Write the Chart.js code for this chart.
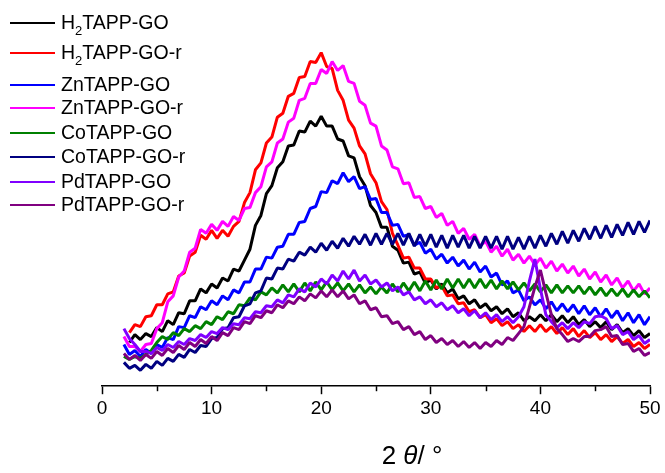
<!DOCTYPE html>
<html>
<head>
<meta charset="utf-8">
<script src="https://cdn.jsdelivr.net/npm/chart.js@4.4.1/dist/chart.umd.min.js"></script>
<style>
  body { margin: 0; background: #fff; }
  #wrap { position: relative; width: 665px; height: 473px; }
  #legend { position: absolute; left: 0; top: 0; font-family: "Liberation Sans", Arial, sans-serif; font-size: 19.5px; color: #000; }
  .row { position: absolute; left: 10px; white-space: nowrap; height: 0; }
  .row span.ln { position: absolute; left: 0; top: -1px; width: 45px; height: 2px; }
  .row span.tx { position: absolute; left: 51px; top: -12px; line-height: 22px; }
  .row sub { font-size: 13px; vertical-align: -6px; line-height: 0; }
  #xtitle { position: absolute; top: 441px; left: 412px; transform: translateX(-50%); font-family: "Liberation Sans", Arial, sans-serif; font-size: 26px; line-height: 29px; white-space: nowrap; }
</style>
</head>
<body>
<div id="wrap">
  <canvas id="myChart" width="665" height="473"></canvas>
  <div id="legend"></div>
  <div id="xtitle">2 <i>θ</i>/ °</div>
</div>
<script>
// 2theta positions (deg)
var angles = [2,2.5,3,3.5,4,4.5,5,5.5,6,6.5,
  7,7.5,8,8.5,9,9.5,10,10.5,11,11.5,
  12,12.5,13,13.5,14,14.5,15,15.5,16,16.5,
  17,17.5,18,18.5,19,19.5,20,20.5,21,21.5,
  22,22.5,23,23.5,24,24.5,25,25.5,26,26.5,
  27,27.5,28,28.5,29,29.5,30,30.5,31,31.5,
  32,32.5,33,33.5,34,34.5,35,35.5,36,36.5,
  37,37.5,38,38.5,39,39.5,40,40.5,41,41.5,
  42,42.5,43,43.5,44,44.5,45,45.5,46,46.5,
  47,47.5,48,48.5,49,49.5,50];

// intensities (a.u.)
var h2go = [null,44,52,47,53,50,59,55,66,62,
  74,73,86,86,98,94,103,99,109,106,
  118,116,127,138,162,172,194,202,220,226,
  242,243,257,256,267,262,272,262,262,249,
  247,232,230,211,202,182,175,160,160,141,
  137,124,125,113,115,104,107,98,103,94,
  98,88,91,83,87,79,83,76,80,73,
  78,70,74,66,70,66,72,66,72,65,
  71,64,70,62,67,60,65,59,65,57,
  62,54,58,51,56,49,53];
var h2goR = [null,54,62,60,70,71,82,82,93,95,
  111,114,131,135,152,148,157,149,157,151,
  161,166,185,195,218,225,245,251,271,275,
  292,295,311,312,327,326,336,322,320,298,
  288,268,260,242,234,214,205,186,178,154,
  142,129,130,119,119,108,108,99,101,91,
  92,83,84,75,77,69,72,64,68,61,
  65,58,62,55,61,55,62,55,60,53,
  59,52,58,50,56,49,54,47,52,45,
  50,43,47,40,44,38,42];
var znGo = [42,32,36,30,37,33,42,39,49,47,
  60,59,71,69,80,77,86,82,91,87,
  97,94,105,105,118,118,130,129,140,141,
  153,153,165,166,179,181,196,195,207,204,
  215,206,211,199,201,188,189,175,175,162,
  163,151,153,142,145,134,138,128,133,124,
  130,121,127,118,125,115,121,110,114,102,
  106,94,97,86,90,82,87,78,85,76,
  83,75,82,73,81,72,79,70,78,69,
  76,66,74,64,72,62,70];
var znGoR = [50,40,40,35,42,43,58,64,85,91,
  110,116,135,139,158,154,163,157,166,161,
  171,167,179,180,195,201,221,226,245,249,
  266,270,288,290,305,305,319,315,327,318,
  323,307,305,287,283,265,262,242,238,221,
  219,204,205,190,191,179,181,170,174,162,
  166,154,159,148,153,141,146,135,141,131,
  138,127,133,124,131,122,129,119,126,116,
  123,114,121,111,118,108,115,105,112,102,
  109,99,106,96,103,93,99];
var coGo = [30,27,30,28,32,36,44,50,47,54,
  51,58,55,61,58,65,62,70,67,75,
  73,82,81,89,87,95,92,99,94,102,
  95,103,95,104,96,105,97,105,97,104,
  96,103,95,102,94,100,93,100,94,103,
  95,104,96,105,96,106,97,107,98,108,
  99,108,99,108,99,108,99,107,98,106,
  98,105,97,104,96,103,95,102,94,102,
  94,101,94,101,93,100,92,99,91,98,
  91,98,90,97,90,96,89];
var coGoR = [24,18,21,16,22,18,25,21,28,25,
  32,29,37,34,41,40,48,49,58,59,
  69,70,81,83,94,96,109,108,119,118,
  128,126,135,132,140,135,144,137,146,139,
  149,141,151,143,153,142,154,143,154,143,
  154,142,154,141,153,141,153,140,152,139,
  152,140,152,139,151,139,151,139,151,138,
  151,138,150,138,151,139,152,141,154,143,
  156,144,157,146,159,148,161,149,162,150,
  163,152,165,153,166,155,167];
var pdGo = [58,48,42,35,35,33,39,36,42,39,
  45,42,48,46,52,49,55,53,59,57,
  63,62,69,68,75,74,81,80,87,84,
  92,90,98,95,104,100,108,103,112,106,
  116,108,117,106,112,103,107,100,104,96,
  100,92,95,87,90,83,87,80,84,77,
  81,74,78,71,76,69,74,67,72,65,
  70,64,70,80,106,128,98,72,65,59,
  64,58,64,59,65,63,70,71,68,58,
  61,52,55,47,51,43,47];
var pdGoR = [33,27,31,26,32,28,35,31,38,34,
  41,37,44,40,47,43,50,46,54,51,
  59,57,65,63,71,69,76,74,82,79,
  86,83,90,86,93,89,96,90,97,90,
  96,88,92,83,86,77,79,70,71,63,
  65,57,60,52,55,47,51,44,48,42,
  46,40,45,39,44,38,44,40,46,42,
  49,46,53,60,80,100,117,94,72,58,
  52,45,48,45,50,50,56,57,60,50,
  51,42,43,35,38,31,34];

var names = ["H<sub>2</sub>TAPP-GO", "H<sub>2</sub>TAPP-GO-r", "ZnTAPP-GO", "ZnTAPP-GO-r",
  "CoTAPP-GO", "CoTAPP-GO-r", "PdTAPP-GO", "PdTAPP-GO-r"];
var colors = ["#000000", "#ff0000", "#0000ff", "#ff00ff", "#008000", "#000080", "#8000ff", "#800080"];
var series = [h2go, h2goR, znGo, znGoR, coGo, coGoR, pdGo, pdGoR];
var xTicks = [0, 10, 20, 30, 40, 50];
var xMinor = [5, 15, 25, 35, 45];

var FONT = "'Liberation Sans', Arial, sans-serif";

// html legend (needs subscripts)
var legendTop = [23, 53, 85, 108, 133, 157, 182, 205];
var lg = document.getElementById('legend');
for (var i = 0; i < names.length; i++) {
  var row = document.createElement('div');
  row.className = 'row';
  row.style.top = legendTop[i] + 'px';
  row.innerHTML = '<span class="ln" style="background:' + colors[i] + '"></span><span class="tx">' + names[i] + '</span>';
  lg.appendChild(row);
}

var minorTicks = {
  id: 'minorTicks',
  afterDraw: function(chart) {
    var sc = chart.scales.x, c = chart.ctx;
    c.save();
    c.strokeStyle = '#000';
    c.lineWidth = 1.5;
    xMinor.forEach(function(v) {
      var px = Math.round(sc.getPixelForValue(v)) + 0.5;
      c.beginPath();
      c.moveTo(px, sc.top);
      c.lineTo(px, sc.top + 5);
      c.stroke();
    });
    c.restore();
  }
};

new Chart("myChart", {
  type: "line",
  data: {
    datasets: series.map(function(vals, i) {
      return {
        label: names[i].replace(/<\/?sub>/g, ''),
        data: angles.map(function(a, j) { return {x: a, y: vals[j]}; }),
        borderColor: colors[i],
        backgroundColor: colors[i],
        borderWidth: 3,
        borderJoinStyle: 'bevel',
        pointRadius: 0,
        tension: 0,
        spanGaps: false,
        order: series.length - i   // later series on top, like Origin
      };
    })
  },
  options: {
    responsive: false,
    animation: false,
    layout: {padding: {left: 102, right: 15, top: 4, bottom: 50}},
    plugins: {legend: {display: false}, tooltip: {enabled: false}},
    scales: {
      x: {
        type: 'linear', min: 0, max: 50,
        afterBuildTicks: function(s) { s.ticks = xTicks.map(function(v) { return {value: v}; }); },
        ticks: {color: '#000', font: {family: FONT, size: 19}, padding: 3, maxRotation: 0},
        grid: {drawOnChartArea: false, drawTicks: true, tickLength: 8, tickColor: '#000', tickWidth: 1.5},
        border: {color: '#000', width: 1.5}
      },
      y: {display: false, min: 0, max: 385}
    }
  },
  plugins: [minorTicks]
});
</script>
</body>
</html>
